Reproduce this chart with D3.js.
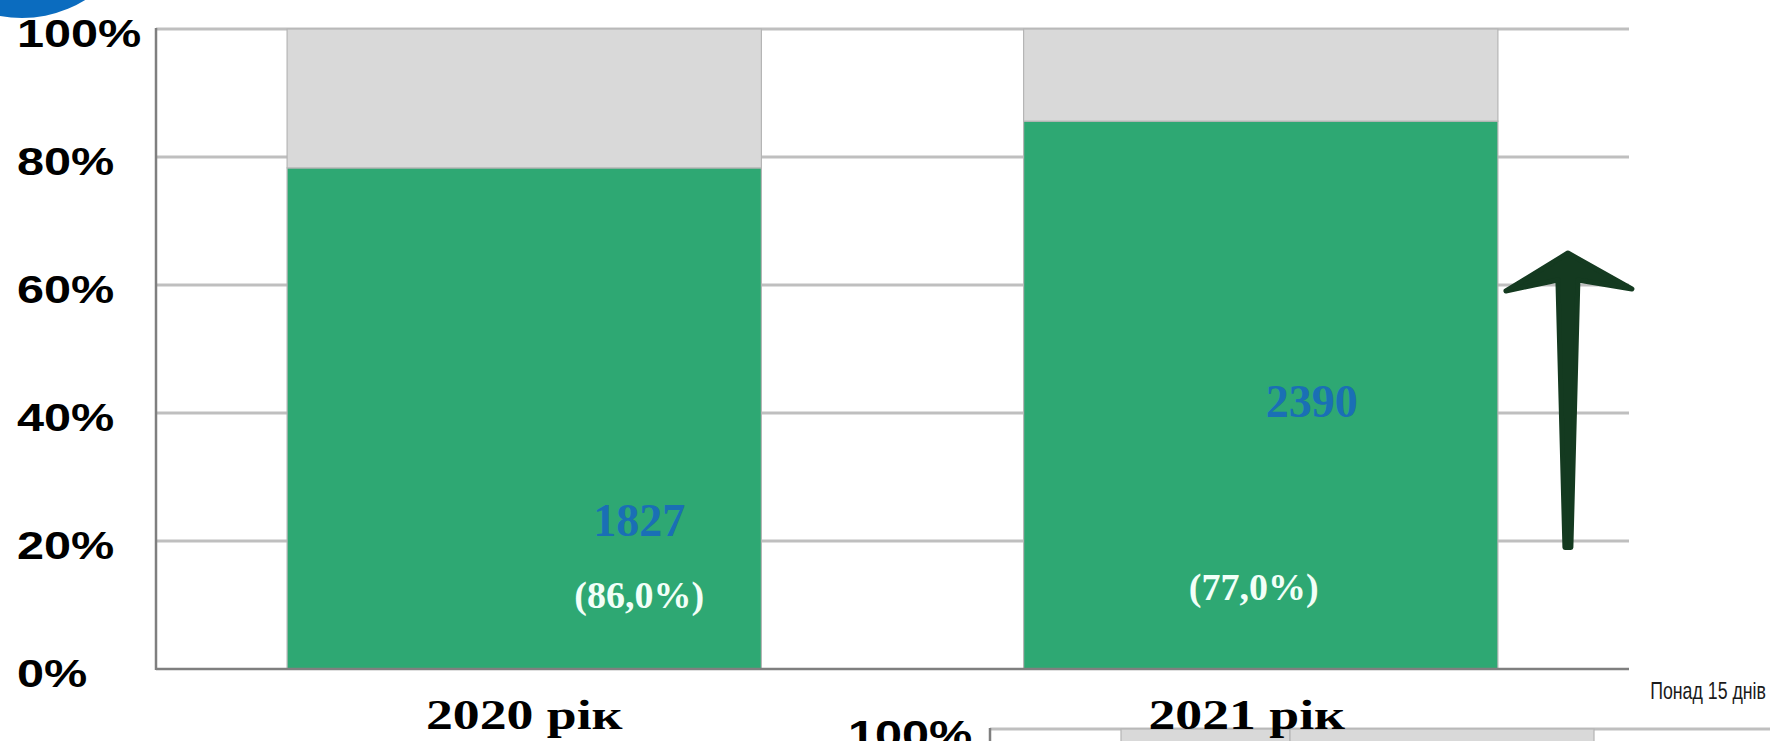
<!DOCTYPE html>
<html>
<head>
<meta charset="utf-8">
<script src="https://cdn.jsdelivr.net/npm/d3@7"></script>
<style>
  html, body { margin: 0; padding: 0; background: #ffffff; }
  svg { display: block; }
</style>
</head>
<body>
<svg id="chart" width="1770" height="741"></svg>
<script>
// ---- data ----
const years = ["2020 рік", "2021 рік"];
const withinShare = [78.3, 85.6];   // green part of each column, %
const overShare = [21.7, 14.4];     // grey part of each column, %
const countLabels = ["1827", "2390"];
const pctLabels = ["(86,0%)", "(77,0%)"];
const yTicks = [0, 20, 40, 60, 80, 100];
const overLabel = "Понад 15 днів";
const trendFrom = 19;   // arrow foot, % on the axis
const trendTo = 65;     // arrow tip, % on the axis

// ---- layout ----
const plot = { left: 156, right: 1629, top: 29, bottom: 669 };
const COLORS = { within: "#2ea873", over: "#d9d9d9", grid: "#bfbfbf", axis: "#7f7f7f",
                 count: "#1a6fb5", pct: "#f2fff8", arrow: "#143a20", blob: "#0b6cbf" };
const AXIS_FONT = "'Liberation Sans', Arial, sans-serif";
const SERIF_FONT = "'Liberation Serif', 'Times New Roman', serif";
const STRETCH = 1.28;   // wide lettering of the axis and category labels

const svg = d3.select("#chart");

const x = d3.scaleBand().domain(years).range([plot.left, plot.right])
  .paddingInner(0.356).paddingOuter(0.178);
const y = d3.scaleLinear().domain([0, 100]).range([plot.bottom, plot.top]);

const rows = years.map((yr, i) => ({ year: yr, within: withinShare[i], over: overShare[i] }));
const stacked = d3.stack().keys(["within", "over"])(rows);

// blue corner shape
svg.append("circle").attr("cx", 22).attr("cy", -102).attr("r", 120)
  .attr("fill", COLORS.blob);

// gridlines
svg.append("g").selectAll("line").data(yTicks.filter(d => d > 0)).join("line")
  .attr("x1", plot.left).attr("x2", plot.right)
  .attr("y1", d => y(d)).attr("y2", d => y(d))
  .attr("stroke", COLORS.grid).attr("stroke-width", 3);

// stacked columns
svg.append("g").selectAll("g").data(stacked).join("g")
  .attr("fill", d => COLORS[d.key])
  .selectAll("rect").data(d => d).join("rect")
  .attr("x", d => x(d.data.year))
  .attr("width", x.bandwidth())
  .attr("y", d => y(d[1]))
  .attr("height", d => y(d[0]) - y(d[1]))
  .attr("stroke", "#b5b5b5").attr("stroke-width", 1.2);

// axes lines
svg.append("line").attr("x1", plot.left).attr("x2", plot.left)
  .attr("y1", y(100) - 1).attr("y2", y(0) + 1)
  .attr("stroke", COLORS.axis).attr("stroke-width", 2.5);
svg.append("line").attr("x1", plot.left).attr("x2", plot.right)
  .attr("y1", y(0)).attr("y2", y(0))
  .attr("stroke", COLORS.axis).attr("stroke-width", 2.5);

// y-axis labels (left aligned)
const yAxis = d3.axisLeft(y).tickValues(yTicks).tickFormat(d => d + "%").tickSize(0);
const yg = svg.append("g").attr("transform", `translate(${plot.left},0)`).call(yAxis);
yg.select(".domain").remove();
yg.selectAll(".tick text")
  .attr("x", 0).attr("dy", null)
  .attr("text-anchor", "start")
  .attr("dominant-baseline", "central")
  .attr("transform", `translate(${17 - plot.left},4) scale(${STRETCH},1)`)
  .style("font-family", AXIS_FONT).style("font-weight", "bold")
  .style("font-size", "38px").attr("fill", "#000");

// top of the next panel below (drawn before the category labels, which sit over it)
{
  const y2 = d3.scaleLinear().domain([0, 100]).range([1369, 729]);
  const left2 = 990;
  const splits = [1121, 1290, 1594];
  svg.append("line").attr("x1", left2).attr("x2", 1770).attr("y1", y2(100)).attr("y2", y2(100))
    .attr("stroke", COLORS.grid).attr("stroke-width", 3);
  svg.append("g").selectAll("rect").data(d3.pairs(splits)).join("rect")
    .attr("x", d => d[0]).attr("width", d => d[1] - d[0])
    .attr("y", y2(100)).attr("height", 20)
    .attr("fill", COLORS.over).attr("stroke", "#b5b5b5").attr("stroke-width", 1.2);
  svg.append("line").attr("x1", left2).attr("x2", left2).attr("y1", y2(100) - 1).attr("y2", 741)
    .attr("stroke", COLORS.axis).attr("stroke-width", 2.5);
  svg.append("text").attr("transform", `translate(848,${y2(100) + 6}) scale(${STRETCH},1)`)
    .attr("dominant-baseline", "central")
    .style("font-family", AXIS_FONT).style("font-weight", "bold").style("font-size", "38px")
    .attr("fill", "#000").text("100%");
}

// category labels
const catShift = [0, -14];
svg.append("g").selectAll("text").data(years).join("text")
  .attr("transform", (d, i) => `translate(${x(d) + x.bandwidth() / 2 + catShift[i]},729) scale(${STRETCH},1)`)
  .attr("text-anchor", "middle")
  .style("font-family", SERIF_FONT).style("font-weight", "bold").style("font-size", "42px")
  .attr("fill", "#000").text(d => d);

// value labels inside columns
const countOffset = [ { dx: 115, v: 23.2 }, { dx: 51, v: 41.8 } ];
const pctOffset = [ { dx: 115, v: 11.5 }, { dx: -7, v: 12.8 } ];
svg.append("g").selectAll("text").data(years).join("text")
  .attr("x", (d, i) => x(d) + x.bandwidth() / 2 + countOffset[i].dx)
  .attr("y", (d, i) => y(countOffset[i].v))
  .attr("text-anchor", "middle").attr("dominant-baseline", "central")
  .style("font-family", SERIF_FONT).style("font-weight", "bold").style("font-size", "46px")
  .attr("fill", COLORS.count).text((d, i) => countLabels[i]);
svg.append("g").selectAll("text").data(years).join("text")
  .attr("x", (d, i) => x(d) + x.bandwidth() / 2 + pctOffset[i].dx)
  .attr("y", (d, i) => y(pctOffset[i].v))
  .attr("text-anchor", "middle").attr("dominant-baseline", "central")
  .style("font-family", SERIF_FONT).style("font-weight", "bold").style("font-size", "38px")
  .attr("fill", COLORS.pct).text((d, i) => pctLabels[i]);

// upward trend arrow to the right of the last column
{
  const cx = x(years[1]) + x.bandwidth() + 70;
  const yTip = y(trendTo), yFoot = y(trendFrom);
  const pts = [
    [cx - 3, yFoot], [cx - 10, yTip + 27], [cx - 62, yTip + 38], [cx, yTip],
    [cx + 64, yTip + 36], [cx + 10, yTip + 27], [cx + 3, yFoot]
  ];
  svg.append("path").attr("d", d3.line()(pts) + "Z")
    .attr("fill", COLORS.arrow).attr("stroke", COLORS.arrow)
    .attr("stroke-width", 5).attr("stroke-linejoin", "round");
}

// series label
svg.append("text").attr("transform", "translate(1766,699) scale(0.74,1)")
  .attr("text-anchor", "end")
  .style("font-family", AXIS_FONT).style("font-size", "24px").attr("fill", "#1a1a1a")
  .text(overLabel);
</script>
</body>
</html>
